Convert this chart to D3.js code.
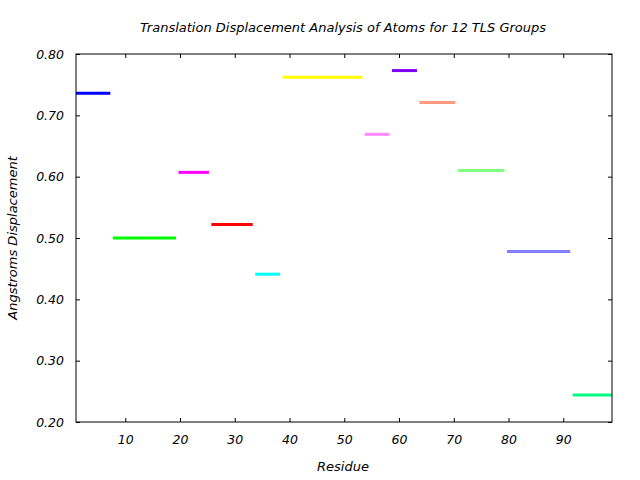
<!DOCTYPE html>
<html><head><meta charset="utf-8">
<script src="https://cdn.jsdelivr.net/npm/d3@7"></script>
<style>body{margin:0;background:#fff}svg{display:block}text{font-family:"DejaVu Sans",sans-serif;font-style:italic;fill:#000}</style>
</head><body>
<script>
const groupStart = [1, 8, 20, 26, 34, 39, 54, 59, 64, 71, 80, 92];
const groupEnd   = [7, 19, 25, 33, 38, 53, 58, 63, 70, 79, 91, 99];
const displacement = [0.736, 0.500, 0.607, 0.522, 0.441, 0.762, 0.669, 0.773, 0.721, 0.610, 0.478, 0.244];
const groupColors = ["#0000ff","#00ff00","#ff00ff","#ff0000","#00ffff","#ffff00","#ff88ff","#8000ff","#ff9980","#80ff80","#8080ff","#00ff80"];
const xTicks = [10,20,30,40,50,60,70,80,90];
const yTicks = [0.2,0.3,0.4,0.5,0.6,0.7,0.8];

const W=640,H=480, m={l:76,r:28,t:54,b:58};
const svg=d3.select("body").append("svg").attr("width",W).attr("height",H);
const x=d3.scaleLinear().domain([1,98.9]).range([m.l,W-m.r]);
const y=d3.scaleLinear().domain([0.2,0.8]).range([H-m.b,m.t]);

svg.append("defs").append("clipPath").attr("id","c").append("rect")
  .attr("x",m.l).attr("y",m.t).attr("width",W-m.r-m.l).attr("height",H-m.b-m.t);

const g=svg.append("g").attr("clip-path","url(#c)");
g.selectAll("line").data(displacement).join("line")
  .attr("x1",(d,i)=>x(groupStart[i])).attr("x2",(d,i)=>x(groupEnd[i]))
  .attr("y1",d=>y(d)).attr("y2",d=>y(d))
  .attr("stroke",(d,i)=>groupColors[i]).attr("stroke-width",3).attr("stroke-linecap","square");

const fmt=d3.format(".2f");
const ax=svg.append("g").attr("transform",`translate(0,${H-m.b})`).call(d3.axisBottom(x).tickValues(xTicks).tickSizeInner(-4).tickSizeOuter(0).tickPadding(13));
const axT=svg.append("g").attr("transform",`translate(0,${m.t})`).call(d3.axisTop(x).tickValues(xTicks).tickSizeInner(-4).tickSizeOuter(0).tickFormat(""));
const ay=svg.append("g").attr("transform",`translate(${m.l},0)`).call(d3.axisLeft(y).tickValues(yTicks).tickFormat(fmt).tickSizeInner(-4).tickSizeOuter(0).tickPadding(12));
const ayR=svg.append("g").attr("transform",`translate(${W-m.r},0)`).call(d3.axisRight(y).tickValues(yTicks).tickSizeInner(-4).tickSizeOuter(0).tickFormat(""));
[ax,axT,ay,ayR].forEach(a=>{a.select(".domain").remove();a.selectAll("line").attr("stroke","#000");a.selectAll("text").attr("font-size",12.5).attr("font-family","DejaVu Sans").attr("font-style","italic");});

svg.append("rect").attr("x",m.l).attr("y",m.t).attr("width",W-m.r-m.l).attr("height",H-m.b-m.t)
  .attr("fill","none").attr("stroke","#000").attr("stroke-width",1);

svg.append("text").attr("x",343).attr("y",32).attr("text-anchor","middle").attr("font-size",13).text("Translation Displacement Analysis of Atoms for 12 TLS Groups");
svg.append("text").attr("x",343).attr("y",471).attr("text-anchor","middle").attr("font-size",13).text("Residue");
svg.append("text").attr("transform",`translate(17,${(m.t+H-m.b)/2}) rotate(-90)`).attr("text-anchor","middle").attr("font-size",13).text("Angstroms Displacement");
</script>
</body></html>
